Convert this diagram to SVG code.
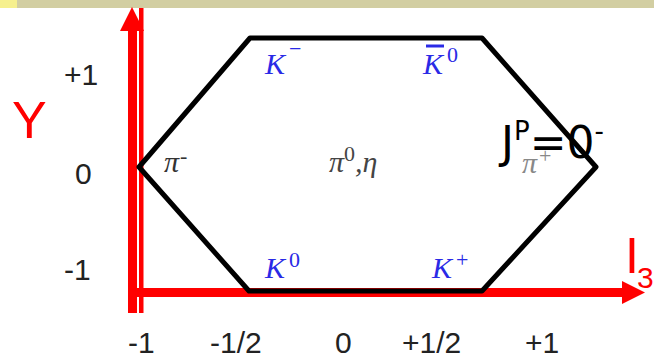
<svg xmlns="http://www.w3.org/2000/svg" width="654" height="362" viewBox="0 0 654 362">
<style>
.tick{font-family:"Liberation Sans",Arial,sans-serif;font-size:30px;fill:#222}
.ax{fill:#ff0000}
.lbl{font-family:"Liberation Serif","Times New Roman",serif;font-style:italic;font-size:30px}
.sup{font-family:"Liberation Serif","Times New Roman",serif;font-style:normal;font-size:22px}
.blue{fill:#2a2ae6}
.hex{fill:none;stroke:#000;stroke-width:5;stroke-linejoin:round}
</style>
<rect x="0" y="0" width="654" height="8" fill="#d2cea2"/>
<rect x="0" y="0" width="17" height="8" fill="#f6f08e"/>
<g id="axes">
<rect class="ax" x="128" y="30" width="9" height="283"/>
<polygon class="ax" points="120,31 132,7 144,31"/>
<rect class="ax" x="139" y="8" width="4.5" height="305"/>
<rect class="ax" x="128" y="288" width="496" height="9"/>
<polygon class="ax" points="622,281 645,292.5 622,304"/>
<text x="12" y="138" font-family="Liberation Sans,Arial,sans-serif" font-size="52" fill="#ff0000">Y</text>
<text x="625" y="273" font-family="Liberation Sans,Arial,sans-serif" font-size="50" fill="#ff0000">I</text>
<text x="637" y="288" font-family="Liberation Sans,Arial,sans-serif" font-size="30" fill="#ff0000">3</text>
</g>
<g id="ticks">
<text class="tick" x="64" y="85">+1</text>
<text class="tick" x="75" y="184">0</text>
<text class="tick" x="64" y="280">-1</text>
<text class="tick" x="128" y="353">-1</text>
<text class="tick" x="210" y="353">-1/2</text>
<text class="tick" x="335" y="353">0</text>
<text class="tick" x="402" y="353">+1/2</text>
<text class="tick" x="525" y="353">+1</text>
</g>
<g id="connectors">
<polygon class="hex" points="250,38 482,38 596,167 482,291 249,291 139,167"/>
</g>
<g id="Kminus">
<text class="lbl blue" x="265" y="74">K<tspan class="sup" font-size="30" dx="4" dy="-18">−</tspan></text>
</g>
<g id="K0bar">
<line x1="426" y1="46" x2="444" y2="46" stroke="#2a2ae6" stroke-width="3"/>
<text class="lbl blue" x="423" y="74">K<tspan class="sup" dx="4" dy="-12">0</tspan></text>
</g>
<g id="piminus">
<text class="lbl" fill="#333" font-size="26" x="164" y="172">π<tspan class="sup" dx="1" dy="-9">-</tspan></text>
</g>
<g id="pi0eta">
<text class="lbl" fill="#444" font-size="26" x="329" y="172">π<tspan class="sup" dy="-11">0</tspan><tspan dy="11">,η</tspan></text>
</g>
<g id="piplus">
<text class="lbl" fill="#888" font-size="26" x="522" y="173">π<tspan class="sup" dx="2" dy="-10">+</tspan></text>
</g>
<g id="K0">
<text class="lbl blue" x="265" y="278">K<tspan class="sup" dx="4" dy="-11">0</tspan></text>
</g>
<g id="Kplus">
<text class="lbl blue" x="432" y="278">K<tspan class="sup" dx="4" dy="-11">+</tspan></text>
</g>
<g id="JP">
<text x="501" y="158" font-family="DejaVu Sans,sans-serif" font-size="44" fill="#000">J<tspan font-size="26" dy="-18">P</tspan><tspan dy="18">=0</tspan><tspan font-size="26" dy="-18">-</tspan></text>
</g>
</svg>
